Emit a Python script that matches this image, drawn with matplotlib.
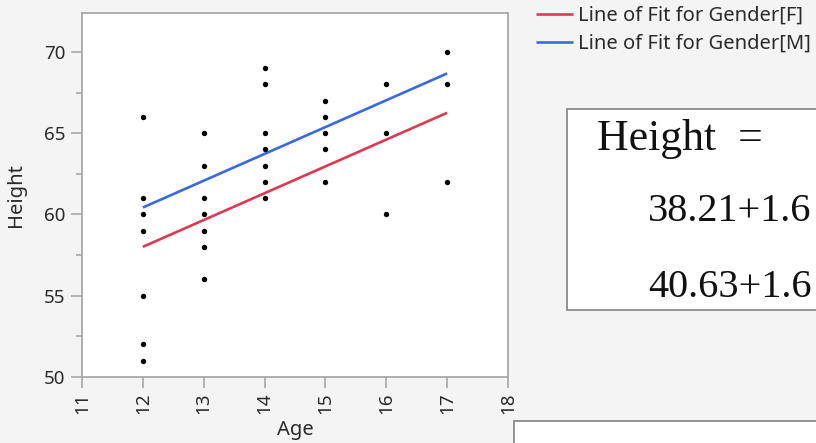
import matplotlib
matplotlib.use("Agg")
import matplotlib.pyplot as plt
from matplotlib.patches import Rectangle
from matplotlib.ticker import MultipleLocator
import numpy as np

# ---- data ----
ages = [12, 12, 12, 12, 12, 12, 12,
        13, 13, 13, 13, 13, 13, 13,
        14, 14, 14, 14, 14, 14, 14,
        15, 15, 15, 15, 15,
        16, 16, 16,
        17, 17, 17]
heights = [66, 61, 60, 59, 55, 52, 51,
           65, 63, 61, 60, 59, 58, 56,
           69, 68, 65, 64, 63, 62, 61,
           67, 66, 65, 64, 62,
           68, 65, 60,
           70, 68, 62]
fit_genders = ["F", "M"]
fit_intercepts = [38.21, 40.63]
fit_slope = 1.65
fit_age_range = [12, 17]
fit_colors = ["#dc3a52", "#3a68e0"]
x_ticks = [11, 12, 13, 14, 15, 16, 17, 18]
y_ticks = [50, 55, 60, 65, 70]
eq_lines = ["Height  =", "38.21+1.6", "40.63+1.6"]

W, H = 816, 443
BG = "#f4f4f4"
TXT = "#2a2a2a"
SPINE = "#a8a8a8"

fig = plt.figure(figsize=(W / 100, H / 100), dpi=100, facecolor=BG)

def fx(px):
    return px / W

def fy(py):
    return 1 - py / H

ax_l, ax_r, ax_t, ax_b = 82, 508, 13, 377
ax = fig.add_axes([fx(ax_l), fy(ax_b), fx(ax_r - ax_l), (ax_b - ax_t) / H])
ax.set_facecolor("white")

# points
ax.scatter(ages, heights, s=15, color="black", zorder=3, linewidths=0)

# fit lines
xs = np.array(fit_age_range, dtype=float)
handles = []
for g, b0, c in zip(fit_genders, fit_intercepts, fit_colors):
    ln, = ax.plot(xs, b0 + fit_slope * xs, color=c, lw=1.9,
                  solid_capstyle="butt", zorder=2,
                  label=f"Line of Fit for Gender[{g}]")
    handles.append(ln)

ax.set_xlim(11, 18)
ax.set_ylim(50, 72.4)
ax.set_xticks(x_ticks)
ax.set_yticks(y_ticks)
ax.yaxis.set_minor_locator(MultipleLocator(2.5))

font = "Noto Sans"
ax.tick_params(axis="both", which="major", length=8, width=1.2, color=SPINE,
               labelsize=13.5, labelcolor=TXT, pad=3)
ax.tick_params(axis="y", which="major", pad=4)
ax.tick_params(axis="y", which="minor", length=4, width=1.2, color=SPINE)
for lab in ax.get_xticklabels():
    lab.set_rotation(90)
    lab.set_family(font)
for lab in ax.get_yticklabels():
    lab.set_family(font)

for sp in ax.spines.values():
    sp.set_color(SPINE)
    sp.set_linewidth(1.3)

ax.set_xlabel("Age", fontsize=14.5, color=TXT, family=font, labelpad=4)
ax.set_ylabel("Height", fontsize=14.5, color=TXT, family=font, labelpad=13)

# legend
leg = fig.legend(handles=handles, loc="upper left",
                 bbox_to_anchor=(fx(536), fy(6)), frameon=False,
                 prop={"family": font, "size": 14.5},
                 handlelength=1.85, handletextpad=0.25, labelspacing=0.4,
                 borderpad=0, borderaxespad=0)
for t in leg.get_texts():
    t.set_color(TXT)

# equation box
fig.patches.append(Rectangle((fx(567), fy(310)), fx(W + 20 - 567), (310 - 109) / H,
                             transform=fig.transFigure, facecolor="white",
                             edgecolor="#8a8a8a", lw=1.3, zorder=1))
serif = "Liberation Serif"
fig.text(fx(597), fy(150), eq_lines[0], family=serif, size=31.5, color="#111111",
         va="baseline", ha="left", zorder=2)
fig.text(fx(648), fy(221), eq_lines[1], family=serif, size=29, color="#111111",
         va="baseline", ha="left", zorder=2)
fig.text(fx(648), fy(297), eq_lines[2], family=serif, size=29, color="#111111",
         va="baseline", ha="left", zorder=2)

# lower box (partially visible)
fig.patches.append(Rectangle((fx(514), fy(H + 20)), fx(W + 20 - 514), (H + 20 - 421) / H,
                             transform=fig.transFigure, facecolor="white",
                             edgecolor="#8a8a8a", lw=1.3, zorder=1))

fig.savefig("out.png", dpi=100, facecolor=BG)
